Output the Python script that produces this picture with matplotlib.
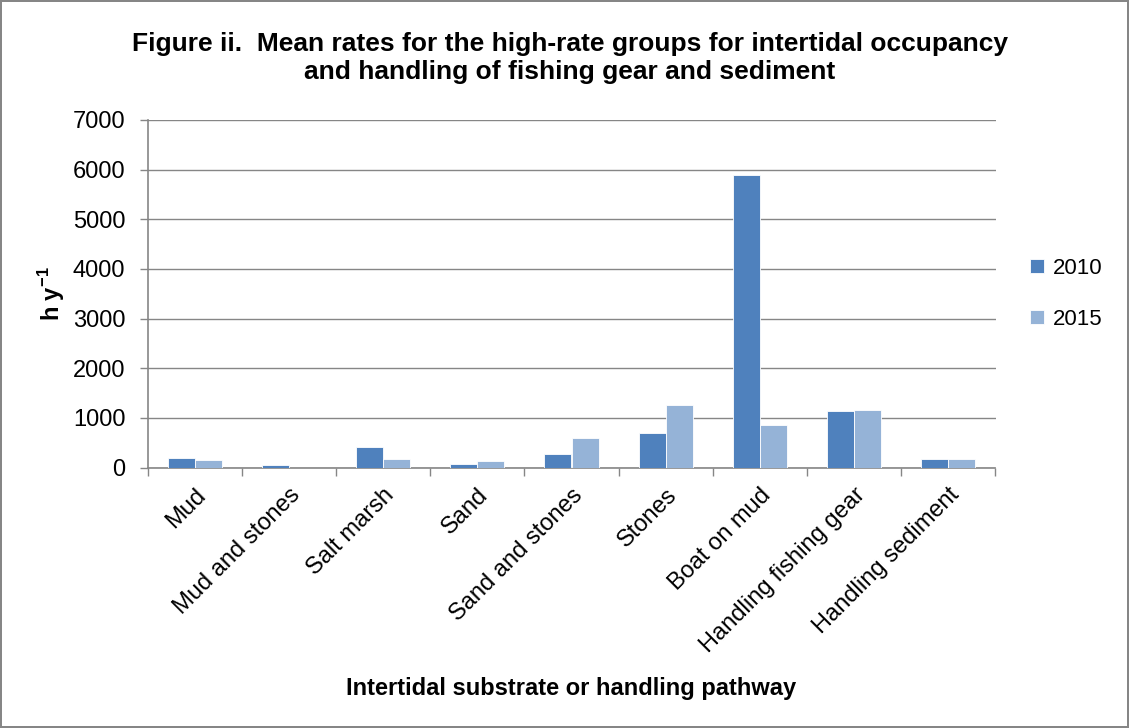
import matplotlib
matplotlib.use("Agg")
import matplotlib.pyplot as plt
import numpy as np

categories = ["Mud", "Mud and stones", "Salt marsh", "Sand", "Sand and stones",
              "Stones", "Boat on mud", "Handling fishing gear", "Handling sediment"]
series_2010 = [192, 55, 411, 62, 267, 692, 5895, 1137, 164]
series_2015 = [151, 0, 171, 137, 589, 1265, 849, 1158, 164]
years = ["2010", "2015"]
yticks = [0, 1000, 2000, 3000, 4000, 5000, 6000, 7000]

plt.rcParams['font.family'] = ['Liberation Sans', 'DejaVu Sans']
plt.rcParams['mathtext.fontset'] = 'custom'
plt.rcParams['mathtext.rm'] = 'Liberation Sans'
plt.rcParams['mathtext.bf'] = 'Liberation Sans:bold'

fig = plt.figure(figsize=(11.29, 7.28), dpi=100)
fig.patch.set_edgecolor('#868686')
fig.patch.set_linewidth(1.5)
L, R, T, B = 147.5, 995.5, 120, 467.5
ax = fig.add_axes([L/1129, 1-B/728, (R-L)/1129, (B-T)/728])

x = np.arange(len(categories))
w = 0.287
c1, c2 = '#4F81BD', '#95B3D7'
ax.bar(x - w/2, series_2010, w, color=c1, edgecolor='white', linewidth=0.6, label=years[0], zorder=3)
ax.bar(x + w/2, series_2015, w, color=c2, edgecolor='white', linewidth=0.6, label=years[1], zorder=3)

ax.set_xlim(-0.5, len(categories) - 0.5)
ax.set_ylim(0, 7000)
ax.set_yticks(yticks)
ax.set_yticklabels([str(t) for t in yticks], fontsize=17)
ax.yaxis.grid(True, color='#868686', linewidth=1, zorder=0)
ax.set_axisbelow(True)

ax.set_xticks(x)
ax.set_xticklabels(categories, rotation=45, ha='right', rotation_mode='anchor', fontsize=17)
ax.tick_params(axis='x', length=0, pad=12)
ax.set_xticks(np.arange(-0.5, len(categories)), minor=True)
ax.tick_params(axis='x', which='minor', length=6, color='#868686', width=1)
ax.tick_params(axis='y', length=6, color='#868686', width=1, pad=10)

for s in ['top', 'right']:
    ax.spines[s].set_visible(False)
for s in ['left', 'bottom']:
    ax.spines[s].set_color('#868686')
    ax.spines[s].set_linewidth(1.2)

ax.set_ylabel(r"h y$^{\mathbf{-1}}$", fontsize=17, fontweight='bold', labelpad=4)
ax.set_xlabel("Intertidal substrate or handling pathway", fontsize=17, fontweight='bold', labelpad=14)

fig.text(570/1129, 1-58/728,
         "Figure ii.  Mean rates for the high-rate groups for intertidal occupancy\nand handling of fishing gear and sediment",
         ha='center', va='center', fontsize=19, fontweight='bold', linespacing=1.2)

leg = ax.legend(loc='center left', bbox_to_anchor=(1.017, 0.5), frameon=False, fontsize=16,
                handlelength=0.65, handleheight=0.65, handletextpad=0.4, labelspacing=1.35)

fig.savefig("out.png", dpi=100)
